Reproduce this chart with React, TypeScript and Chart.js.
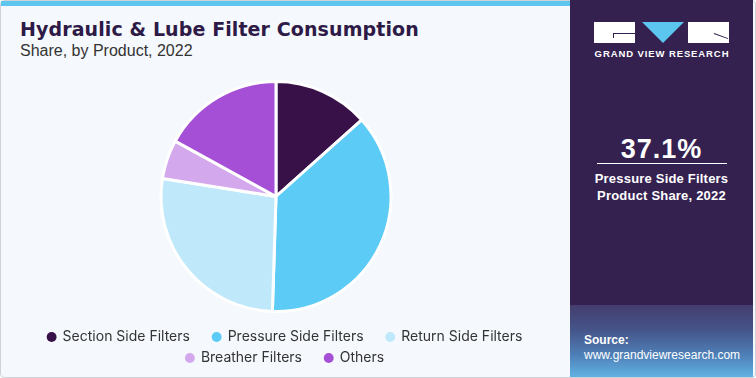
import React, { useEffect, useRef } from "react";
import { Chart, registerables } from "chart.js";

Chart.register(...registerables);

const categories = [
  "Section Side Filters",
  "Pressure Side Filters",
  "Return Side Filters",
  "Breather Filters",
  "Others",
];
const shares = [13.4, 37.1, 27.0, 5.5, 17.0];
const colors = ["#371148", "#5ccbf5", "#bfe9fa", "#d4a8ec", "#a54fd6"];
const rowEnds = [2, 4]; // last item index in each legend row (no trailing gap)

const shiftLegend = {
  id: "shiftLegend",
  afterLayout(chart: any) {
    const lg = chart.legend;
    if (lg) {
      lg.left += 9;
      lg.right += 9;
    }
  },
};

export default function App() {
  const ref = useRef<HTMLCanvasElement | null>(null);

  useEffect(() => {
    document.body.style.margin = "0";
    const canvas = ref.current;
    if (!canvas) return;
    const chart = new Chart(canvas, {
      type: "pie",
      data: {
        labels: categories,
        datasets: [
          {
            data: shares,
            backgroundColor: colors,
            borderColor: "#ffffff",
            borderWidth: 3,
            hoverOffset: 0,
            radius: 115,
          },
        ],
      },
      plugins: [shiftLegend],
      options: {
        animation: false,
        responsive: false,
        maintainAspectRatio: false,
        layout: { padding: { top: 70, bottom: 3, left: 0, right: 18 } },
        plugins: {
          tooltip: { enabled: false },
          legend: {
            position: "bottom",
            labels: {
              usePointStyle: true,
              pointStyle: "circle",
              boxWidth: 8,
              boxHeight: 7,
              padding: 7,
              color: "#333333",
              font: { family: "Inter, 'Noto Sans', sans-serif", size: 14 },
              generateLabels(c: any) {
                const items = Chart.overrides.pie.plugins.legend.labels.generateLabels(c);
                return items.map((it: any, i: number) => ({
                  ...it,
                  lineWidth: 0,
                  strokeStyle: "rgba(0,0,0,0)",
                  text: rowEnds.includes(i) ? it.text : it.text + "    ",
                }));
              },
            },
          },
        },
      },
    });
    return () => chart.destroy();
  }, []);

  return (
    <div
      style={{
        position: "fixed",
        left: 0,
        top: 0,
        width: 756,
        height: 378,
        overflow: "hidden",
        fontFamily: "'Liberation Sans', Arial, sans-serif",
        background: "#ffffff",
      }}
    >
      <div
        style={{
          position: "absolute",
          left: 0,
          top: 0,
          width: 756,
          height: 378,
          background: "#f5f8fc",
          boxSizing: "border-box",
          border: "1px solid #cfd3d8",
          borderRadius: 4,
        }}
      />
      <div style={{ position: "absolute", left: 1, top: 1, width: 569, height: 5, background: "#5cc6ef" }} />
      <div
        style={{
          position: "absolute",
          left: 20,
          top: 18,
          fontFamily: "'DejaVu Sans', sans-serif",
          fontSize: 19,
          lineHeight: "22px",
          fontWeight: 700,
          color: "#2e1a47",
          whiteSpace: "nowrap",
          letterSpacing: 0.1,
        }}
      >
        Hydraulic &amp; Lube Filter Consumption
      </div>
      <div
        style={{
          position: "absolute",
          left: 20,
          top: 42,
          fontSize: 16,
          lineHeight: "18px",
          color: "#333",
          whiteSpace: "nowrap",
        }}
      >
        Share, by Product, 2022
      </div>
      <canvas ref={ref} width={570} height={378} style={{ position: "absolute", left: 0, top: 0 }} />

      <div style={{ position: "absolute", left: 570, top: 0, width: 183, height: 377, background: "#352150" }} />
      <div
        style={{
          position: "absolute",
          left: 570,
          top: 305,
          width: 183,
          height: 72,
          background: "linear-gradient(180deg, #443d6e 0%, #45558a 35%, #4f80b8 70%, #60b2e2 100%)",
        }}
      />
      {/* logo */}
      <div style={{ position: "absolute", left: 594, top: 22, width: 41, height: 21, background: "#fff" }} />
      <div
        style={{
          position: "absolute",
          left: 613,
          top: 33,
          width: 22,
          height: 5,
          borderTop: "1px solid #352150",
          borderLeft: "1px solid #352150",
          boxSizing: "border-box",
        }}
      />
      <div
        style={{
          position: "absolute",
          left: 642,
          top: 22,
          width: 0,
          height: 0,
          borderLeft: "21px solid transparent",
          borderRight: "21px solid transparent",
          borderTop: "21px solid #5cc6ef",
        }}
      />
      <div style={{ position: "absolute", left: 688, top: 22, width: 41, height: 21, background: "#fff" }} />
      <div
        style={{
          position: "absolute",
          left: 714,
          top: 33,
          width: 15,
          height: 1,
          background: "#352150",
          transform: "rotate(20deg)",
          transformOrigin: "left center",
        }}
      />
      <div
        style={{
          position: "absolute",
          left: 594,
          top: 48,
          width: 136,
          textAlign: "center",
          color: "#fff",
          fontSize: 9.5,
          fontWeight: 700,
          letterSpacing: 0.9,
          whiteSpace: "nowrap",
        }}
      >
        GRAND VIEW RESEARCH
      </div>

      <div
        style={{
          position: "absolute",
          left: 570,
          top: 134,
          width: 183,
          textAlign: "center",
          color: "#fff",
          fontSize: 27,
          fontWeight: 700,
          letterSpacing: 1,
        }}
      >
        37.1%
      </div>
      <div style={{ position: "absolute", left: 597, top: 163, width: 130, height: 1, background: "#fff" }} />
      <div
        style={{
          position: "absolute",
          left: 570,
          top: 170,
          width: 183,
          textAlign: "center",
          color: "#fff",
          fontSize: 13,
          fontWeight: 700,
          lineHeight: "17px",
          letterSpacing: 0.2,
        }}
      >
        Pressure Side Filters
        <br />
        Product Share, 2022
      </div>

      <div
        style={{
          position: "absolute",
          left: 584,
          top: 333,
          color: "#fff",
          fontSize: 12,
          fontWeight: 700,
          lineHeight: "15px",
        }}
      >
        Source:
      </div>
      <div style={{ position: "absolute", left: 584, top: 348, color: "#fff", fontSize: 12, lineHeight: "15px" }}>
        www.grandviewresearch.com
      </div>
    </div>
  );
}
